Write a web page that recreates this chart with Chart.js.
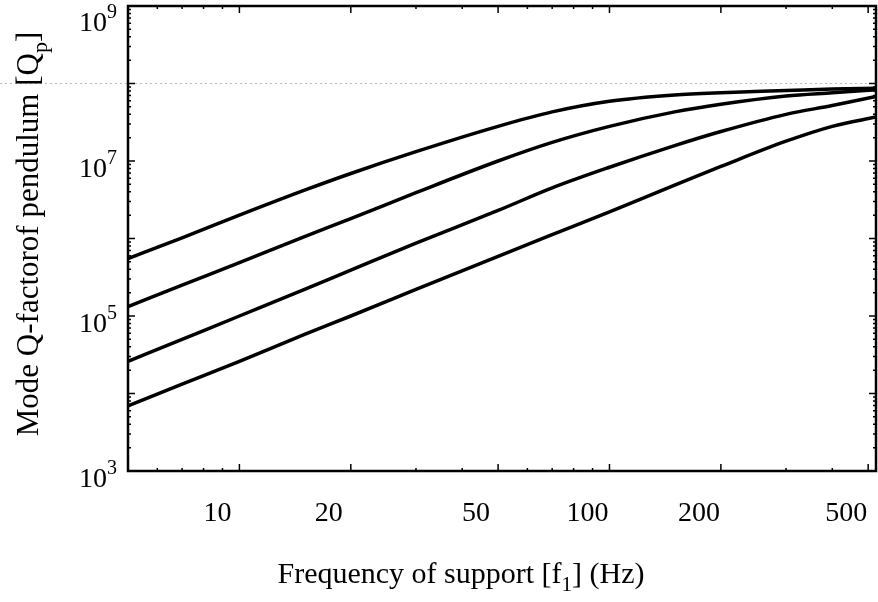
<!DOCTYPE html>
<html>
<head>
<meta charset="utf-8">
<style>
  html, body { margin: 0; padding: 0; background: #fff; }
</style>
<script src="https://cdn.jsdelivr.net/npm/chart.js@4"></script>
</head>
<body>
<canvas id="chart" width="878" height="602"></canvas>
<script>
// --- Data ---
const freqs = [5, 7, 10, 15, 20, 30, 50, 70, 100, 150, 200, 300, 400, 525];
const qCurve1 = [5.5e5, 1.02e6, 2.0e6, 4.2e6, 6.9e6, 1.32e7, 2.8e7, 4.3e7, 5.9e7, 7.1e7, 7.6e7, 8.1e7, 8.5e7, 8.7e7];
const qCurve2 = [1.32e5, 2.5e5, 4.9e5, 1.06e6, 1.8e6, 3.9e6, 1.0e7, 1.74e7, 2.8e7, 4.3e7, 5.4e7, 6.9e7, 7.6e7, 8.3e7];
const qCurve3 = [2.6e4, 5.0e4, 1.0e5, 2.2e5, 3.9e5, 8.7e5, 2.3e6, 4.5e6, 8.3e6, 1.58e7, 2.4e7, 4.0e7, 5.2e7, 6.8e7];
const qCurve4 = [6.9e3, 1.32e4, 2.6e4, 5.8e4, 1.0e5, 2.2e5, 5.9e5, 1.12e6, 2.2e6, 4.9e6, 8.5e6, 1.8e7, 2.8e7, 3.7e7];

// --- Axis ticks ---
const xTickLabels = [10, 20, 50, 100, 200, 500];
const xMinorTicks = [6, 7, 8, 9, 30, 40, 60, 70, 80, 90, 300, 400];
const yTickExps = [3, 5, 7, 9];
const xTitle = [['Frequency of support [f', false], ['1', true], ['] (Hz)', false]];
const yTitle = [['Mode Q-factorof pendulum [Q', false], ['p', true], [']', false]];

const FONT = '"Liberation Serif", "Times New Roman", serif';

const toPoints = (ys) => freqs.map((f, i) => ({ x: f, y: ys[i] }));

// draw a run of text with subscripts, centred on x
function drawRun(ctx, parts, x, y, size) {
    const subSize = Math.round(size * 0.7);
    let total = 0;
    parts.forEach(([t, sub]) => {
        ctx.font = `${sub ? subSize : size}px ${FONT}`;
        total += ctx.measureText(t).width;
    });
    let cx = x - total / 2;
    ctx.textAlign = 'left';
    ctx.textBaseline = 'alphabetic';
    parts.forEach(([t, sub]) => {
        ctx.font = `${sub ? subSize : size}px ${FONT}`;
        ctx.fillText(t, cx, sub ? y + size * 0.28 : y);
        cx += ctx.measureText(t).width;
    });
}

const framePlugin = {
    id: 'frame',
    afterDraw(chart) {
        const { ctx, chartArea: a, scales: { x, y } } = chart;
        ctx.save();
        ctx.fillStyle = '#000';

        // faint scan line at 10^8
        const y8 = y.getPixelForValue(1e8);
        ctx.setLineDash([2, 3]);
        ctx.strokeStyle = '#bbb';
        ctx.lineWidth = 1;
        ctx.beginPath();
        ctx.moveTo(0, y8);
        ctx.lineTo(chart.width, y8);
        ctx.stroke();
        ctx.setLineDash([]);
        ctx.strokeStyle = '#000';

        // frame
        ctx.lineWidth = 2.5;
        ctx.strokeRect(a.left, a.top, a.right - a.left, a.bottom - a.top);

        // inside ticks
        ctx.lineWidth = 1.5;
        const xt = (v, len) => {
            const px = x.getPixelForValue(v);
            ctx.beginPath();
            ctx.moveTo(px, a.bottom); ctx.lineTo(px, a.bottom - len);
            ctx.moveTo(px, a.top); ctx.lineTo(px, a.top + len);
            ctx.stroke();
        };
        xTickLabels.forEach(v => xt(v, 7));
        xMinorTicks.forEach(v => xt(v, 3));
        const yt = (v, len) => {
            const py = y.getPixelForValue(v);
            ctx.beginPath();
            ctx.moveTo(a.left, py); ctx.lineTo(a.left + len, py);
            ctx.moveTo(a.right, py); ctx.lineTo(a.right - len, py);
            ctx.stroke();
        };
        for (let d = 3; d <= 9; d++) {
            yt(Math.pow(10, d), 7);
            if (d < 9) for (let m = 2; m <= 9; m++) yt(m * Math.pow(10, d), 3);
        }

        // x tick labels (shifted left as in the scan)
        ctx.font = `28px ${FONT}`;
        ctx.textAlign = 'center';
        ctx.textBaseline = 'alphabetic';
        xTickLabels.forEach(v => {
            ctx.fillText(String(v), x.getPixelForValue(v) - 22, 521);
        });

        // y tick labels: 10 with superscript exponent
        yTickExps.forEach(e => {
            const py = Math.max(y.getPixelForValue(Math.pow(10, e)) + 9, 24);
            ctx.textBaseline = 'middle';
            ctx.textAlign = 'right';
            ctx.font = `20px ${FONT}`;
            const supW = ctx.measureText(String(e)).width;
            ctx.fillText(String(e), a.left - 11, py - 11);
            ctx.font = `28px ${FONT}`;
            ctx.fillText('10', a.left - 11 - supW, py);
        });

        // axis titles
        drawRun(ctx, xTitle, 461, 583, 30);
        ctx.translate(38, 234);
        ctx.rotate(-Math.PI / 2);
        drawRun(ctx, yTitle, 0, 0, 31);
        ctx.restore();
    }
};

const lineStyle = {
    borderColor: '#000',
    borderWidth: 3.5,
    pointRadius: 0,
    fill: false,
    cubicInterpolationMode: 'monotone'
};

new Chart(document.getElementById('chart'), {
    type: 'line',
    data: {
        datasets: [
            { label: 'Q1', data: toPoints(qCurve1), ...lineStyle },
            { label: 'Q2', data: toPoints(qCurve2), ...lineStyle },
            { label: 'Q3', data: toPoints(qCurve3), ...lineStyle },
            { label: 'Q4', data: toPoints(qCurve4), ...lineStyle }
        ]
    },
    options: {
        responsive: false,
        animation: false,
        layout: { padding: { top: 6, right: 2, left: 0, bottom: 0 } },
        plugins: { legend: { display: false }, tooltip: { enabled: false } },
        scales: {
            x: {
                type: 'logarithmic',
                min: 5,
                max: 525,
                grid: { display: false, drawTicks: false },
                border: { display: false },
                ticks: { display: false },
                afterFit: (s) => { s.height = 131; }
            },
            y: {
                type: 'logarithmic',
                min: 1e3,
                max: 1e9,
                grid: { display: false, drawTicks: false },
                border: { display: false },
                ticks: { display: false },
                afterFit: (s) => { s.width = 128; }
            }
        }
    },
    plugins: [framePlugin]
});
</script>
</body>
</html>
